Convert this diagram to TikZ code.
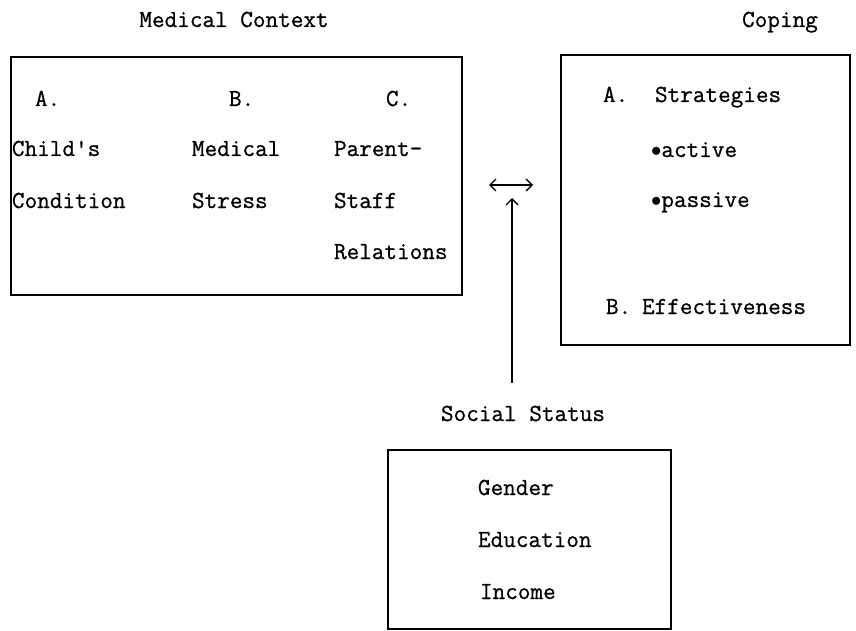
\documentclass[tikz,border=0pt]{standalone}
\usepackage{fontspec}
\newfontfamily\twfont{Latin Modern Mono}[FakeBold=0.8]
\usetikzlibrary{arrows.meta}
\begin{document}
\begin{tikzpicture}[x=1pt,y=-1pt,
  every node/.style={inner sep=0pt,outer sep=0pt,font=\fontsize{24.5}{28}\twfont},
  lbl/.style={anchor=base west},
  ttl/.style={anchor=base},
  box/.style={draw,line width=1.1pt,anchor=north west},
  tip/.tip={Straight Barb[length=6pt,width=12pt,line width=1.4pt]},
  arr/.style={line width=1.2pt,-tip},
  darr/.style={line width=1.2pt,tip-tip}]
\useasboundingbox (0,0) rectangle (856,631);
% titles
\node[ttl] (tmc) at (234,27) {Medical Context};
\node[ttl] (tcp) at (780,27) {Coping};
% boxes
\node[box,minimum width=451pt,minimum height=238pt] (mc) at (11,57) {};
\node[box,minimum width=289pt,minimum height=290pt] (cp) at (561,55) {};
\node[box,minimum width=283pt,minimum height=179pt] (ss) at (388,450) {};
% medical context contents
\node[lbl] (a) at (35,106) {A.};
\node[lbl] (b) at (229,106) {B.};
\node[lbl] (c) at (386,106) {C.};
\node[lbl] (a1) at (12,156) {Child's};
\node[lbl] (a2) at (12,208) {Condition};
\node[lbl] (b1) at (192,156) {Medical};
\node[lbl] (b2) at (192,208) {Stress};
\node[lbl] (c1) at (334,156) {Parent-};
\node[lbl] (c2) at (334,208) {Staff};
\node[lbl] (c3) at (334,259) {Relations};
% coping contents
\node[lbl] (ca) at (603,102) {A.};
\node[lbl] (cs) at (655,102) {Strategies};
\node[lbl] (cac) at (651,157) {{\fontsize{22}{22}\selectfont$\bullet$}active};
\node[lbl] (cpa) at (651,207) {{\fontsize{22}{22}\selectfont$\bullet$}passive};
\node[lbl] (cb) at (606,314) {B.};
\node[lbl] (ce) at (642,314) {Effectiveness};
% social status
\node[ttl] (tss) at (523,421) {Social Status};
\node[lbl] (g) at (478,495) {Gender};
\node[lbl] (e) at (478,547) {Education};
\node[lbl] (i) at (480,599) {Income};
% arrows
\coordinate (dl) at (489,185);
\coordinate (dr) at (533,185);
\coordinate (vt) at (512,198);
\coordinate (vb) at (512,383);
\draw[darr] (dl) -- (dr);
\draw[arr] (vb) -- (vt);
\end{tikzpicture}
\end{document}
